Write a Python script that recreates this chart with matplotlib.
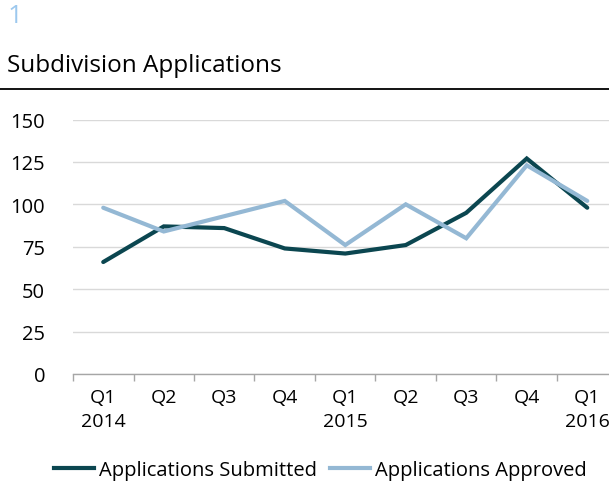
import matplotlib
matplotlib.use("Agg")
import matplotlib.pyplot as plt
from matplotlib.lines import Line2D

plt.rcParams['font.family'] = ['Open Sans', 'DejaVu Sans']

# Data
quarters = ["Q1\n2014", "Q2", "Q3", "Q4", "Q1\n2015", "Q2", "Q3", "Q4", "Q1\n2016"]
submitted = [66, 87, 86, 74, 71, 76, 95, 127, 98]
approved = [98, 84, 93, 102, 76, 100, 80, 123, 102]
yticks = [0, 25, 50, 75, 100, 125, 150]

dark = "#0b4650"
light = "#94b8d4"

W, H = 609, 485
fig = plt.figure(figsize=(W / 100, H / 100), dpi=100)

# plot area in pixel coords
left, right, top, bottom = 73, 609, 120.5, 375
ax = fig.add_axes([left / W, (H - bottom) / H, (right - left) / W, (bottom - top) / H])

x = list(range(len(quarters)))
ax.plot(x, submitted, color=dark, lw=3, solid_capstyle='round', solid_joinstyle='miter', zorder=3)
ax.plot(x, approved, color=light, lw=3, solid_capstyle='round', solid_joinstyle='miter', zorder=3)

step = 60.5
ax.set_xlim(-0.5, (right - left) / step - 0.5)
ax.set_ylim(0, 150)
ax.set_yticks(yticks)
ax.yaxis.grid(True, color="#d9d9d9", lw=1)
ax.set_axisbelow(True)
ax.tick_params(axis='y', length=0, pad=20, labelsize=14.5)
for s in ["top", "right", "left"]:
    ax.spines[s].set_visible(False)
ax.spines["bottom"].set_color("#a6a6a6")
ax.spines["bottom"].set_linewidth(1)

# category tick marks between categories, labels at centres
ax.set_xticks([i - 0.5 for i in range(len(quarters))])
ax.set_xticks(x, minor=True)
ax.set_xticklabels([])
ax.set_xticklabels(quarters, minor=True, fontsize=14, linespacing=1.45)
ax.tick_params(axis='x', which='major', length=5, color="#a6a6a6", width=1)
ax.tick_params(axis='x', which='minor', length=0, pad=10)

# header
fig.text(8 / W, 1 - 23 / H, "1", fontsize=19, color="#9cc8ee", va='baseline')
fig.text(7 / W, 1 - 72 / H, "Subdivision Applications", fontsize=17.5, color="black", va='baseline')
fig.add_artist(Line2D([0, 1], [1 - 89.5 / H, 1 - 89.5 / H], color="black", lw=1.3))

# legend
handles = [Line2D([], [], color=dark, lw=3), Line2D([], [], color=light, lw=3)]
fig.legend(handles, ["Applications Submitted", "Applications Approved"],
           loc='center', bbox_to_anchor=(0.526, 1 - 471 / H), ncol=2, frameon=False,
           fontsize=14.5, handlelength=2.0, handletextpad=0.25, columnspacing=0.65)

fig.savefig("out.png", dpi=100)
